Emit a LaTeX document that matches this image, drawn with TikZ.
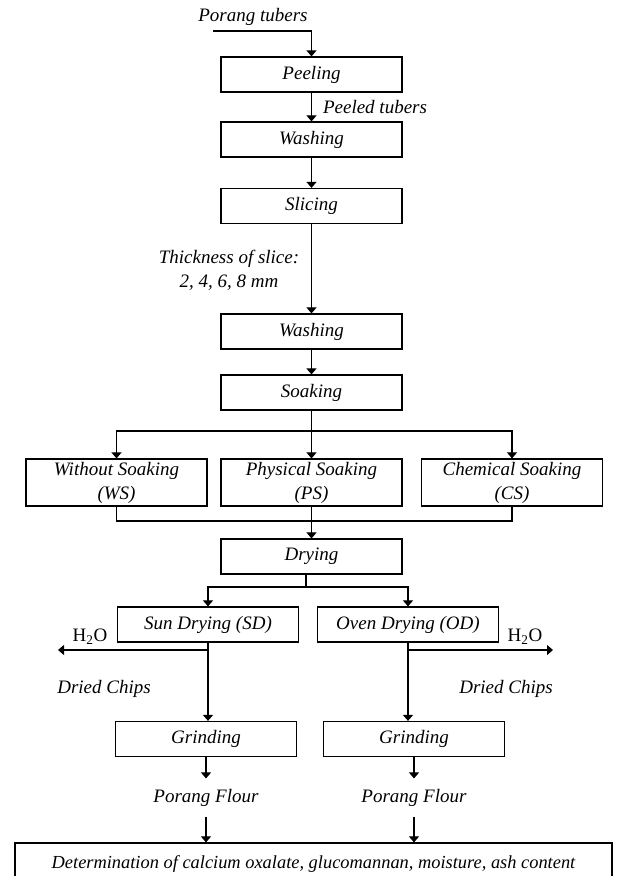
\documentclass[tikz,border=0pt]{standalone}
\usepackage{fontspec}
\setmainfont{Liberation Serif}
\usepackage{tikz}
\usetikzlibrary{shapes,arrows.meta,positioning}

\newcommand{\flowfont}{\fontsize{19}{24}\selectfont}

\begin{document}
\begin{tikzpicture}[x=1pt, y=-1pt, line width=1.1pt,
    box/.style={draw, line width=1.2pt, minimum width=181pt, minimum height=35pt,
                inner sep=0pt, align=center, font=\flowfont\itshape},
    tallbox/.style={box, minimum height=47pt},
    lbl/.style={inner sep=0pt, align=center, font=\flowfont\itshape},
    arr/.style={-{Triangle[width=10pt,length=6pt]}}]
    \clip (0,0) rectangle (618,876);

    % Preparation of the tubers
    \node[lbl] (tubers) at (253,17) {Porang tubers};
    \coordinate (feed) at (213,31);
    \node[box] (peel) at (311.5,74.5) {Peeling};
    \node[lbl] (peeled) at (375,107) {Peeled tubers};
    \node[box] (wash1) at (311.5,139.5) {Washing};
    \node[box] (slice) at (311.5,206) {Slicing};
    \node[lbl] (thick) at (229,270) {Thickness of slice:\\2, 4, 6, 8 mm};
    \node[box] (wash2) at (311.5,331.5) {Washing};
    \node[box] (soak) at (311.5,392.5) {Soaking};

    \draw[arr] (feed) -| (peel.north);
    \draw[arr] (peel) -- (wash1);
    \draw[arr] (wash1) -- (slice);
    \draw[arr] (slice) -- (wash2);
    \draw[arr] (wash2) -- (soak);

    % Soaking treatments
    \node[tallbox] (ws) at (116.5,482.5) {Without Soaking\\(WS)};
    \node[tallbox] (ps) at (311.5,482.5) {Physical Soaking\\(PS)};
    \node[tallbox] (cs) at (512,482.5) {Chemical Soaking\\(CS)};
    \coordinate (split1) at (311.5,431);
    \coordinate (merge1) at (311.5,521);

    \draw (soak) -- (split1);
    \draw[arr] (split1) -| (ws.north);
    \draw[arr] (split1) -- (ps.north);
    \draw[arr] (split1) -| (cs.north);
    \draw (ws.south) |- (merge1) -| (cs.south);

    % Drying
    \node[box] (dry) at (311.5,556.5) {Drying};
    \node[box] (sd) at (208,624.5) {Sun Drying (SD)};
    \node[box] (od) at (408,624.5) {Oven Drying (OD)};
    \coordinate (split2) at (306,587);
    \draw[arr] (ps.south) -- (dry.north);
    \draw (dry.south -| split2) -- (split2);
    \draw[arr] (split2) -| (sd.north);
    \draw[arr] (split2) -| (od.north);

    % Water removed
    \coordinate (wetL) at (58,650);
    \coordinate (wetR) at (553,650);
    \node[lbl, font=\flowfont] (h2oL) at (90,637) {H\textsubscript{2}O};
    \node[lbl, font=\flowfont] (h2oR) at (525,637) {H\textsubscript{2}O};
    \draw[arr] (sd.south |- wetL) -- (wetL);
    \draw[arr] (od.south |- wetR) -- (wetR);

    % Grinding
    \node[lbl] (chipsL) at (104,689) {Dried Chips};
    \node[lbl] (chipsR) at (506,689) {Dried Chips};
    \node[box] (grindL) at (206,739) {Grinding};
    \node[box] (grindR) at (414,739) {Grinding};
    \draw[arr] (sd.south) -- (sd.south |- grindL.north);
    \draw[arr] (od.south) -- (od.south |- grindR.north);

    % Flour and analysis
    \node[lbl, minimum height=37pt] (flourL) at (206,797.5) {Porang Flour};
    \node[lbl, minimum height=37pt] (flourR) at (414,797.5) {Porang Flour};
    \node[box, minimum width=597pt, minimum height=42pt,
          font=\fontsize{18.4}{22}\selectfont\itshape] (det) at (313.5,864)
        {Determination of calcium oxalate, glucomannan, moisture, ash content};
    \draw[arr] (grindL) -- (flourL);
    \draw[arr] (grindR) -- (flourR);
    \draw[arr] (flourL) -- (flourL |- det.north);
    \draw[arr] (flourR) -- (flourR |- det.north);
\end{tikzpicture}
\end{document}
